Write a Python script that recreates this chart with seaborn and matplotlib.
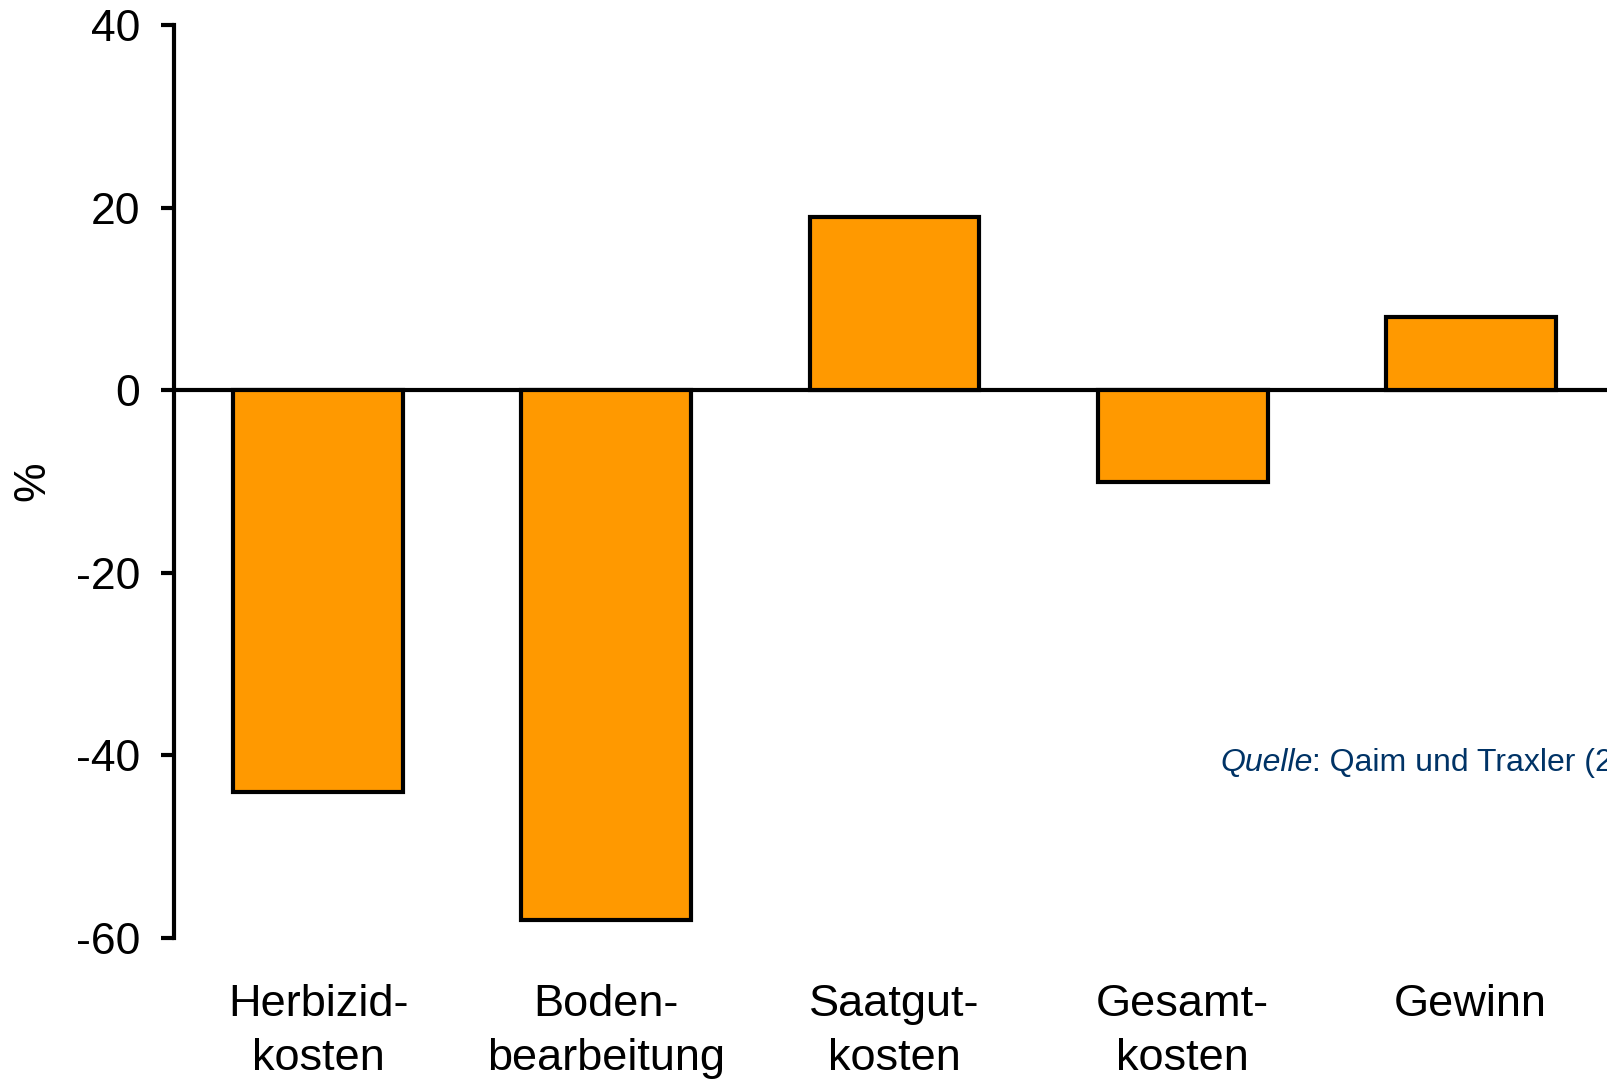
import matplotlib
matplotlib.use("Agg")
import matplotlib.pyplot as plt
import seaborn as sns
import pandas as pd

# Veränderung gegenüber konventionellem Anbau, in Prozent
kategorien = ["Herbizid-\nkosten", "Boden-\nbearbeitung", "Saatgut-\nkosten", "Gesamt-\nkosten", "Gewinn"]
werte = [-44, -58, 19, -10, 8]
y_ticks = [-60, -40, -20, 0, 20, 40]

df = pd.DataFrame({"kategorie": kategorien, "wert": werte})

sns.set_theme(style="white")
plt.rcParams["font.family"] = ["Liberation Sans", "DejaVu Sans"]
plt.rcParams["text.color"] = "black"
plt.rcParams["axes.labelcolor"] = "black"
plt.rcParams["xtick.color"] = "black"
plt.rcParams["ytick.color"] = "black"

W, H = 1608, 1079
fig = plt.figure(figsize=(W / 100, H / 100), dpi=100)
left = 174.3 / W
right = 1614.7 / W
bottom = 1 - 938 / H
top = 1 - 25 / H
ax = fig.add_axes([left, bottom, right - left, top - bottom])

LW = 3.0
sns.barplot(data=df, x="kategorie", y="wert", color="#FF9900", saturation=1,
            edgecolor="black", linewidth=LW, width=0.59, ax=ax, zorder=3)

ax.axhline(0, color="black", lw=LW, zorder=2)
ax.set_xlim(-0.5, 4.5)
ax.set_ylim(-60, 40)
ax.set_yticks(y_ticks)
ax.set_yticklabels([str(t) for t in y_ticks])
ax.set_xticks(range(len(kategorien)))
ax.set_xticklabels(kategorien, linespacing=1.4)

for s in ["top", "right", "bottom"]:
    ax.spines[s].set_visible(False)
ax.spines["left"].set_linewidth(LW)
ax.spines["left"].set_color("black")

ax.tick_params(axis="y", direction="out", length=9.5, width=LW, color="black",
               labelcolor="black", labelsize=32, pad=15, left=True)
ax.tick_params(axis="x", length=0, labelsize=32.5, labelcolor="black", pad=33)

ax.set_xlabel("")
ax.set_ylabel("%", fontsize=32, labelpad=16, color="black")

src_x = 1220 / W
src_y = 1 - 771 / H
t1 = fig.text(src_x, src_y, "Quelle", fontsize=23, style="italic",
              color="#003366", va="baseline", ha="left")
fig.canvas.draw()
bb = t1.get_window_extent()
fig.text(bb.x1 / W, src_y, ": Qaim und Traxler (2005)", fontsize=23,
         color="#003366", va="baseline", ha="left")

fig.savefig("out.png", dpi=100)
